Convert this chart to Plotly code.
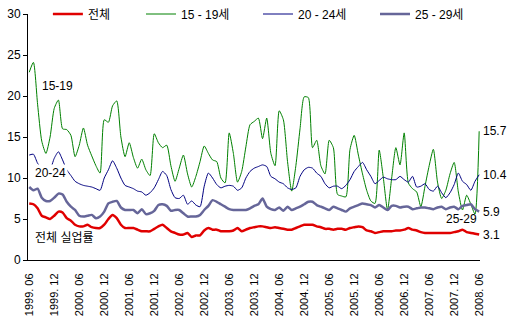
import plotly.graph_objects as go

# ---- data ----
tick_labels = ["1999. 06", "1999. 12", "2000. 06", "2000. 12", "2001. 06", "2001. 12",
               "2002. 06", "2002. 12", "2003. 06", "2003. 12", "2004. 06", "2004. 12",
               "2005. 06", "2005. 12", "2006. 06", "2006. 12", "2007. 06", "2007. 12",
               "2008. 06"]

series_names = ["전체", "15 - 19세", "20 - 24세", "25 - 29세"]

total = [6.9, 6.8, 6.3, 5.4, 5.2, 5.0, 5.4, 5.9, 5.8, 5.1, 4.8, 4.3, 4.1, 4.1, 4.3, 4.0,
         3.9, 3.9, 4.3, 5.0, 5.5, 5.1, 4.3, 3.9, 3.9, 3.9, 3.7, 3.5, 3.5, 3.5, 3.8, 4.1,
         4.3, 3.9, 3.5, 3.3, 3.1, 3.1, 3.3, 2.8, 3.0, 3.0, 3.6, 3.9, 3.7, 3.7, 3.5, 3.5,
         3.5, 3.6, 3.9, 3.5, 3.7, 3.9, 4.0, 4.1, 4.1, 4.0, 3.9, 4.0, 3.9, 3.8, 3.7, 3.7,
         3.9, 4.1, 4.3, 4.3, 4.3, 4.1, 4.0, 3.8, 3.8, 3.7, 3.8, 3.8, 3.7, 3.9, 4.0, 4.1,
         4.0, 3.6, 3.5, 3.3, 3.4, 3.5, 3.5, 3.5, 3.6, 3.6, 3.7, 3.9, 3.7, 3.6, 3.4, 3.3,
         3.3, 3.3, 3.3, 3.3, 3.3, 3.3, 3.4, 3.5, 3.7, 3.4, 3.3, 3.2, 3.1]

age_15_19 = [22.9, 24.1, 19.0, 14.5, 13.0, 15.0, 18.5, 19.5, 16.0, 15.9, 15.2, 12.6, 14.0,
             16.1, 14.0, 12.7, 11.5, 10.6, 17.1, 16.8, 18.8, 19.4, 15.0, 12.6, 14.3, 12.5,
             11.2, 12.3, 11.0, 10.3, 15.4, 14.3, 13.7, 14.0, 11.5, 9.6, 11.2, 12.8, 10.5,
             8.9, 10.2, 12.0, 13.9, 13.0, 12.2, 12.0, 10.0, 9.4, 15.5, 13.0, 9.5, 10.8, 13.8,
             16.5, 16.9, 17.3, 14.8, 17.3, 13.0, 11.5, 18.2, 17.1, 12.0, 8.4, 11.5, 16.0,
             19.9, 19.8, 13.7, 14.6, 11.5, 10.5, 14.6, 13.7, 8.0, 7.8, 7.7, 13.5, 15.2, 12.8,
             10.5, 8.5, 7.2, 6.9, 13.4, 10.0, 6.1, 10.0, 13.7, 11.6, 15.5, 9.4, 8.7, 8.3,
             6.5, 9.0, 11.5, 13.5, 9.5, 7.5, 8.5, 10.5, 11.9, 8.3, 6.1, 7.9, 6.8, 5.6, 15.7]

age_20_24 = [12.8, 12.9, 11.8, 11.2, 10.6, 11.0, 12.4, 13.2, 12.2, 11.0, 10.3, 9.6, 9.3,
             9.1, 9.0, 8.9, 8.7, 8.5, 10.0, 11.0, 12.1, 11.2, 10.0, 9.1, 8.9, 8.7, 8.4, 8.3,
             7.9, 8.2, 8.8, 9.8, 10.8, 10.3, 8.6, 7.6, 7.5, 7.9, 6.8, 7.2, 6.7, 6.5, 9.0,
             10.6, 10.0, 9.2, 8.8, 9.0, 9.1, 9.0, 8.5, 8.8, 10.0, 10.8, 11.2, 11.4, 11.6,
             11.4, 10.2, 9.9, 9.5, 9.3, 8.8, 8.6, 8.8, 10.2, 11.0, 11.3, 11.2, 10.6, 10.2,
             9.3, 8.8, 9.0, 9.0, 8.7, 9.1, 9.8, 10.8, 11.4, 11.9, 11.0, 10.2, 9.3, 9.7, 10.1,
             9.9, 9.8, 9.8, 10.2, 9.8, 9.5, 10.2, 8.9, 9.0, 9.3, 8.6, 8.4, 9.0, 8.2, 7.6,
             8.2, 9.2, 10.6, 9.6, 9.2, 8.5, 9.6, 10.4]

age_25_29 = [8.9, 8.5, 8.7, 7.6, 7.2, 7.2, 7.6, 8.1, 8.0, 7.1, 6.5, 6.1, 5.4, 5.3, 5.4, 5.5,
             5.1, 5.3, 5.9, 6.9, 7.1, 7.2, 6.4, 6.1, 6.1, 6.1, 5.7, 6.2, 5.6, 5.7, 6.0, 6.7,
             6.8, 6.6, 6.0, 6.1, 6.1, 5.7, 5.3, 5.3, 5.3, 5.5, 6.1, 6.6, 7.3, 7.1, 6.8, 6.5,
             6.2, 6.1, 6.1, 6.1, 6.1, 6.3, 6.6, 6.8, 7.5, 6.5, 6.2, 6.1, 6.4, 6.0, 6.5, 6.1,
             6.3, 6.5, 6.8, 7.1, 7.1, 6.7, 6.5, 6.3, 6.1, 6.5, 6.3, 6.1, 5.9, 6.3, 6.5, 6.7,
             6.9, 6.8, 6.7, 6.4, 6.7, 6.4, 6.1, 6.6, 6.6, 6.4, 6.5, 6.5, 6.2, 6.3, 6.4, 6.4,
             6.3, 6.2, 6.4, 6.5, 6.2, 6.4, 6.5, 6.2, 6.6, 6.7, 6.8, 6.2, 5.9]

months = list(range(len(total)))
tick_vals = months[::6]

FONT = "Liberation Sans, Arial, 'Noto Sans CJK KR', sans-serif"

fig = go.Figure()
styles = [
    (total, "#E00000", 2.5, "legend"),
    (age_15_19, "#008000", 1, "legend2"),
    (age_20_24, "#000080", 1, "legend2"),
    (age_25_29, "#666699", 2.5, "legend2"),
]
for name, (vals, color, w, leg) in zip(series_names, styles):
    fig.add_trace(go.Scatter(x=months, y=vals, mode="lines", name=name,
                             line=dict(color=color, width=w, shape="spline", smoothing=0.6),
                             legend=leg, showlegend=True))

ann_font = dict(family=FONT, size=12, color="black")
anns = [
    dict(x=2.5, y=21.2, text="15-19", xanchor="left", yanchor="middle"),
    dict(x=1, y=10.6, text="20-24", xanchor="left", yanchor="middle", bgcolor="white"),
    dict(x=1, y=2.7, text="전체 실업률", xanchor="left", yanchor="middle"),
    dict(x=99.5, y=5.0, text="25-29", xanchor="left", yanchor="middle"),
]
last = len(months) - 1
for vals in (age_15_19, age_20_24, age_25_29, total):
    anns.append(dict(x=last, y=vals[-1], text=f"{vals[-1]}", xanchor="left",
                     yanchor="middle", xshift=2))
for a in anns:
    a.update(xref="x", yref="y", showarrow=False, font=ann_font)

fig.update_layout(
    width=513, height=327,
    margin=dict(l=28, r=33, t=14, b=67, autoexpand=False),
    paper_bgcolor="white", plot_bgcolor="white",
    showlegend=True,
    font=dict(family=FONT, size=12, color="black"),
    annotations=anns,
    legend=dict(orientation="h", x=0.044, xanchor="left", y=1.0, yanchor="middle",
                bgcolor="rgba(0,0,0,0)", font=dict(family=FONT, size=12),
                itemwidth=30),
    legend2=dict(orientation="h", x=0.25, xanchor="left", y=1.0, yanchor="middle",
                 bgcolor="rgba(0,0,0,0)", font=dict(family=FONT, size=12),
                 itemwidth=30, entrywidth=72, entrywidthmode="pixels"),
    xaxis=dict(range=[-0.3, 108.2], tickmode="array", tickvals=tick_vals,
               ticktext=tick_labels, tickangle=-90, showgrid=False, zeroline=False,
               showline=True, linecolor="black", linewidth=1, ticks="",
               tickfont=dict(family=FONT, size=11, color="black"),
               ticklabelstandoff=8),
    yaxis=dict(range=[0, 30], dtick=5, showgrid=False, zeroline=False,
               showline=True, linecolor="black", linewidth=1, ticks="outside",
               ticklen=4, tickcolor="black",
               tickfont=dict(family=FONT, size=12, color="black")),
)

fig.write_html("out.html")
